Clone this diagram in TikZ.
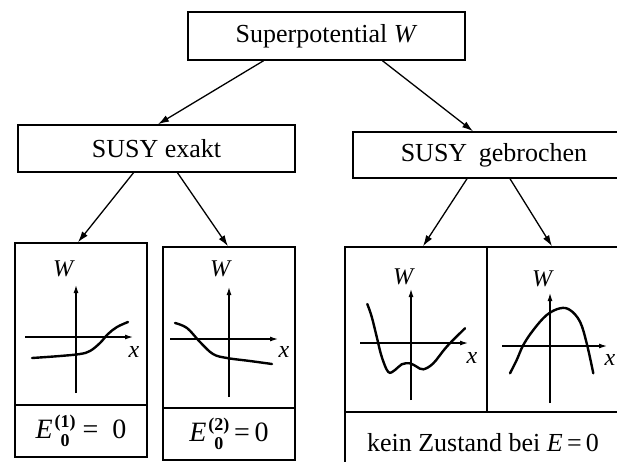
\documentclass[tikz,border=0pt]{standalone}
\usepackage{fontspec}
\setmainfont{Liberation Serif}
\usetikzlibrary{arrows.meta}
\newcommand{\subsup}[2]{\kern2pt\raisebox{-8pt}{\fontsize{18}{20}\selectfont\bfseries\shortstack{#1\\#2}}}
\tikzset{
  box/.style={draw, line width=1.5pt, rectangle, inner sep=0pt, font=\fontsize{26}{30}\selectfont},
  conn/.style={line width=1.3pt, -{Latex[length=11pt,width=7pt]}},
  axis/.style={line width=1.2pt, -{Latex[length=8pt,width=5pt]}},
  curve/.style={line width=2.4pt, line cap=round},
  lbl/.style={inner sep=0pt, font=\fontsize{24}{28}\selectfont\itshape},
  eqlbl/.style={font=\fontsize{28}{32}\selectfont}
}
\begin{document}
\begin{tikzpicture}[x=1pt,y=-1pt]
\clip (0,0) rectangle (617,461);
\fill[white] (0,0) rectangle (617,461);
% top level
\node[box, minimum width=277pt, minimum height=48pt] (top) at (326.5,36) {Superpotential \textit{W}};
\node[box, minimum width=277pt, minimum height=47pt] (exakt) at (156.5,148.5) {SUSY exakt};
\node[box, minimum width=282pt, minimum height=46pt] (gebr) at (494,155) {SUSY\hspace{0.45em}gebrochen};
% bottom panels
\node[box, minimum width=132pt, minimum height=162pt] (g1) at (81,324) {};
\node[box, eqlbl, minimum width=132pt, minimum height=52pt] (l1) at (81,431) {\textit{E}\subsup{(1)}{0}\ = \ 0};
\node[box, minimum width=132pt, minimum height=161pt] (g2) at (229,327.5) {};
\node[box, eqlbl, minimum width=132pt, minimum height=52pt] (l2) at (229,434) {\textit{E}\subsup{(2)}{0}\,=\,0};
\node[box, minimum width=142pt, minimum height=165pt] (g3a) at (416,329.5) {};
\node[box, minimum width=134pt, minimum height=165pt] (g3b) at (554,329.5) {};
\node[box, minimum width=276pt, minimum height=62pt] (l3) at (483,443) {kein Zustand bei \textit{E}\,=\,0};
% connectors
\draw[conn] ([xshift=-63pt]top.south) -- ([xshift=1.5pt]exakt.north);
\draw[conn] ([xshift=56pt]top.south) -- ([xshift=-21pt]gebr.north);
\draw[conn] ([xshift=-23pt]exakt.south) -- ([xshift=-3pt]g1.north);
\draw[conn] ([xshift=21pt]exakt.south) -- ([xshift=-1pt]g2.north);
\draw[conn] ([xshift=-27pt]gebr.south) -- ([xshift=7pt]g3a.north);
\draw[conn] ([xshift=16pt]gebr.south) -- ([xshift=-2pt]g3b.north);
% graph 1
\coordinate (a1b) at (76,393); \coordinate (a1t) at (76,285);
\coordinate (a1l) at (25,337); \coordinate (a1r) at (133,337);
\draw[axis] (a1b) -- (a1t);
\draw[axis] (a1l) -- (a1r);
\node[lbl] (w1) at (63,269) {W};
\node[lbl] (x1) at (134,352) {x};
\draw[curve] plot[smooth, tension=0.6] coordinates {(32,358) (60,356) (80,354) (90,351) (100,343) (108,334) (117,327) (128,322)};
% graph 2
\coordinate (a2b) at (229,397); \coordinate (a2t) at (229,287);
\coordinate (a2l) at (170,339); \coordinate (a2r) at (278,339);
\draw[axis] (a2b) -- (a2t);
\draw[axis] (a2l) -- (a2r);
\node[lbl] (w2) at (220,269) {W};
\node[lbl] (x2) at (284,352) {x};
\draw[curve] plot[smooth, tension=0.6] coordinates {(175,323) (187,328) (200,342) (213,354) (227,358) (250,361) (272,364)};
% graph 3 left
\coordinate (a3b) at (411,400); \coordinate (a3t) at (411,289);
\coordinate (a3l) at (360,343); \coordinate (a3r) at (468,343);
\draw[axis] (a3b) -- (a3t);
\draw[axis] (a3l) -- (a3r);
\node[lbl] (w3) at (403,277) {W};
\node[lbl] (x3) at (472,358) {x};
\draw[curve] plot[smooth, tension=0.6] coordinates {(367.3,304) (371.7,316.7) (376.7,336.7) (381.7,356.7) (388.3,372) (395,370) (401.7,364.3) (410,363.3) (416.7,366.7) (423.3,369.3) (433.3,363.3) (446.7,346.7) (465,328.3)};
% graph 3 right
\coordinate (a4b) at (550,403); \coordinate (a4t) at (550,293);
\coordinate (a4l) at (502,346); \coordinate (a4r) at (607,346);
\draw[axis] (a4b) -- (a4t);
\draw[axis] (a4l) -- (a4r);
\node[lbl] (w4) at (542,279) {W};
\node[lbl] (x4) at (610,360) {x};
\draw[curve] plot[smooth, tension=0.6] coordinates {(510,373.3) (516.7,360) (523.3,345) (533.3,330) (546.7,315) (560,308.3) (570,310) (580,321.7) (586.7,343.3) (593.3,373.3)};
\end{tikzpicture}
\end{document}
